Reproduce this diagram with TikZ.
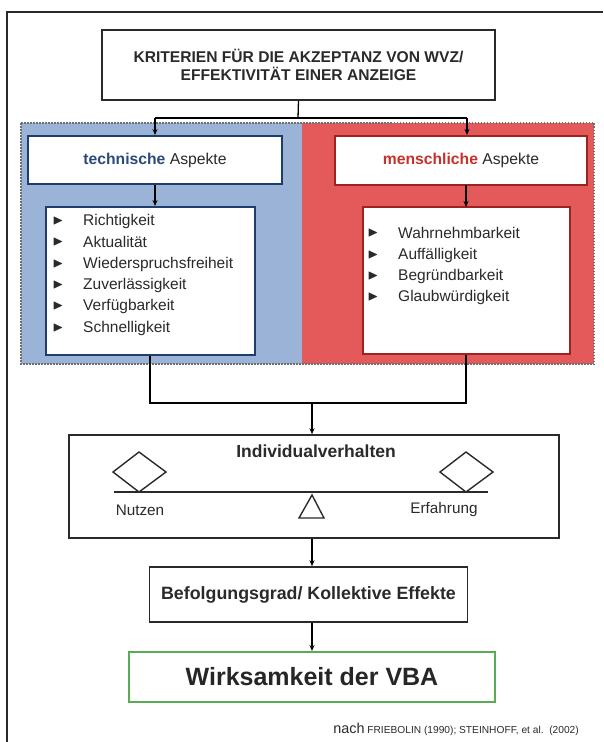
\documentclass[tikz,border=0pt]{standalone}
\usepackage{fontspec}
\setmainfont{Liberation Sans}
\usepackage{amssymb}
\usetikzlibrary{arrows.meta}
\definecolor{bluepanel}{HTML}{9BB3D6}
\definecolor{redpanel}{HTML}{E45A5A}
\definecolor{darkblue}{HTML}{1F3D6B}
\definecolor{darkred}{HTML}{9E2220}
\definecolor{textred}{HTML}{C8302A}
\definecolor{textblue}{HTML}{2B4A7A}
\definecolor{txt}{HTML}{2A2A2A}
\definecolor{greenbox}{HTML}{5BAA55}
\definecolor{dotgray}{HTML}{707070}
\tikzset{
  panel/.style={draw=dotgray, line width=1.3pt, dash pattern=on 1.5pt off 1.5pt},
  plainbox/.style={draw=txt, line width=1.6pt, fill=white, inner sep=0pt, align=center, text=txt},
  techbox/.style={draw=darkblue, line width=2pt, fill=white, inner sep=0pt, align=center, text=txt},
  menbox/.style={draw=darkred, line width=2pt, fill=white, inner sep=0pt, align=center, text=txt},
  conn/.style={draw=black, line width=1.3pt},
  arr/.style={conn, -{Stealth[length=6pt,width=5pt]}},
  listtxt/.style={anchor=west, inner sep=0pt, text=txt, font=\fontsize{15.5}{17}\selectfont},
  bul/.style={anchor=center, inner sep=0pt, text=txt, font=\fontsize{14}{16}\selectfont},
}
\begin{document}
\begin{tikzpicture}[x=1pt, y=-1pt]
\useasboundingbox (0,0) rectangle (603,742);
% outer frame
\draw[line width=1.4pt, draw=txt] (7,742) -- (7,12) -- (603,12);
% panels
\fill[bluepanel] (21,123) rectangle (302,364);
\fill[redpanel] (302,123) rectangle (594,364);
\draw[panel] (21,123) rectangle (594,364);
% title
\node[plainbox, minimum width=393pt, minimum height=70pt,
  font=\bfseries\fontsize{15.6}{17.5}\selectfont] (title) at (298.5,65)
  {KRITERIEN FÜR DIE AKZEPTANZ VON WVZ/\\EFFEKTIVITÄT EINER ANZEIGE};
% aspect boxes
\node[techbox, minimum width=254pt, minimum height=48pt,
  font=\fontsize{15.7}{18}\selectfont] (tech) at (155,160)
  {\textcolor{textblue}{\bfseries technische} Aspekte};
\node[menbox, minimum width=252pt, minimum height=49pt,
  font=\fontsize{15.7}{18}\selectfont] (men) at (461,160.5)
  {\textcolor{textred}{\bfseries menschliche} Aspekte};
% list boxes
\node[techbox, minimum width=209pt, minimum height=148pt] (techlist) at (150.5,281) {};
\node[menbox, minimum width=207pt, minimum height=147pt] (menlist) at (466.5,280.5) {};
% tech list items
\foreach \y/\t [count=\i] in {221/Richtigkeit, 242/Aktualität, 264/Wiederspruchsfreiheit, 285/Zuverlässigkeit, 306/Verfügbarkeit, 328/Schnelligkeit}{
  \node[bul] (tb\i) at (58,\y) {$\blacktriangleright$};
  \node[listtxt] (tt\i) at (83,\y) {\t};
}
% human list items
\foreach \y/\t [count=\i] in {233/Wahrnehmbarkeit, 255/Auffälligkeit, 276/Begründbarkeit, 297/Glaubwürdigkeit}{
  \node[bul] (mb\i) at (373,\y) {$\blacktriangleright$};
  \node[listtxt] (mt\i) at (398,\y) {\t};
}
% top connectors
\coordinate (tj) at (298,118);
\coordinate (tl) at (155,118);
\coordinate (tr) at (467,118);
\draw[conn] (title.south) -- (tj);
\draw[conn] (tl) -- (tr);
\draw[arr] (tl) -- (tech.north -| tl);
\draw[arr] (tr) -- (men.north -| tr);
% aspect to list
\draw[arr] (tech.south) -- (tech.south |- techlist.north);
\draw[arr] (466,185) -- (466,207);
% bottom connectors
\coordinate (bl) at (150,403);
\coordinate (br) at (466,403);
\coordinate (bj) at (312,403);
\draw[conn] (techlist.south -| bl) -- (bl) -- (br) -- (menlist.south -| br);
% individual box
\node[plainbox, minimum width=490pt, minimum height=103pt] (indiv) at (314,486.5) {};
\node[inner sep=0pt, text=txt, font=\bfseries\fontsize{17.5}{20}\selectfont] (indivt) at (316,451) {Individualverhalten};
\draw[arr] (bj) -- (bj |- indiv.north);
% balance
\draw[line width=2pt, draw=txt] (114,492) -- (488,492);
\draw[line width=1.4pt, draw=txt, fill=white] (139,492) -- (166,472) -- (139,452) -- (113,472) -- cycle;
\draw[line width=1.4pt, draw=txt, fill=white] (466,492) -- (493,472) -- (466,452) -- (440,472) -- cycle;
\draw[line width=1.4pt, draw=txt] (312,495) -- (324,518) -- (299,518) -- cycle;
\node[inner sep=0pt, text=txt, font=\fontsize{15.3}{17}\selectfont] (nutzen) at (140,510) {Nutzen};
\node[inner sep=0pt, text=txt, font=\fontsize{15.3}{17}\selectfont] (erf) at (444,510) {Erfahrung};
% Befolgung
\node[plainbox, minimum width=318pt, minimum height=55pt,
  font=\bfseries\fontsize{17.8}{20}\selectfont] (bef) at (308.5,594.5) {Befolgungsgrad/ Kollektive Effekte};
\draw[arr] (indiv.south -| bj) -- (bef.north -| bj);
% Wirksamkeit
\node[draw=greenbox, line width=2pt, fill=white, inner sep=0pt, text=black!85,
  minimum width=366pt, minimum height=50pt,
  font=\bfseries\fontsize{25}{29}\selectfont] (wirk) at (312,677) {Wirksamkeit der VBA};
\draw[arr] (bef.south -| bj) -- (wirk.north -| bj);
% footer
\node[anchor=base east, inner sep=0pt, text=txt] (foot) at (579,733)
  {{\fontsize{14.4}{16}\selectfont nach} {\fontsize{10.2}{12}\selectfont FRIEBOLIN (1990); STEINHOFF, et al.\ \ (2002)}};
\end{tikzpicture}
\end{document}
